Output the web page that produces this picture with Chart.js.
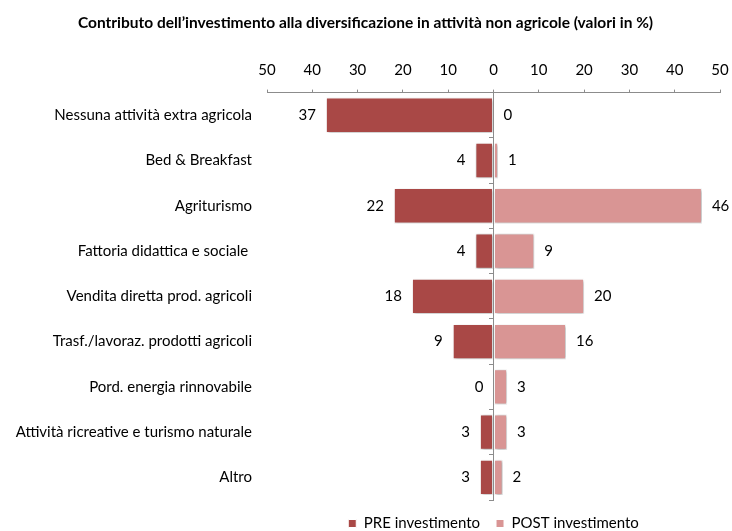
<!DOCTYPE html>
<html>
<head>
<meta charset="utf-8">
<script src="https://cdn.jsdelivr.net/npm/chart.js@4/dist/chart.umd.min.js"></script>
<style>
  html, body { margin: 0; padding: 0; background: #fff; }
  #wrap { width: 732px; height: 531px; }
</style>
</head>
<body>
<div id="wrap"><canvas id="grafico"></canvas></div>
<script>
// categorie e valori (%)
const categorie = [
  "Nessuna attività extra agricola",
  "Bed & Breakfast",
  "Agriturismo",
  "Fattoria didattica e sociale ",
  "Vendita diretta prod. agricoli",
  "Trasf./lavoraz. prodotti agricoli",
  "Pord. energia rinnovabile",
  "Attività ricreative e turismo naturale",
  "Altro"
];
const pre = [37, 4, 22, 4, 18, 9, 0, 3, 3];
const post = [0, 1, 46, 9, 20, 16, 3, 3, 2];
const tickValori = [-50, -40, -30, -20, -10, 0, 10, 20, 30, 40, 50];

const FONT = "Lato, 'Open Sans', sans-serif";
const ROSSO = "#A94846";
const ROSA = "#D99594";
const GRIGIO = "#8c8c8c";

// ombra leggera sotto le barre
const ombra = {
  id: "ombra",
  beforeDatasetsDraw(chart) {
    const ctx = chart.ctx;
    ctx.save();
    ctx.shadowColor = "rgba(0,0,0,0.35)";
    ctx.shadowBlur = 3;
    ctx.shadowOffsetX = 1;
    ctx.shadowOffsetY = 1;
  },
  afterDatasetsDraw(chart) {
    chart.ctx.restore();
  }
};

// etichette con i valori a fianco delle barre
const etichette = {
  id: "etichette",
  afterDatasetsDraw(chart) {
    const ctx = chart.ctx;
    const x = chart.scales.x;
    ctx.save();
    ctx.font = "15px " + FONT;
    ctx.fillStyle = "#000";
    ctx.textBaseline = "middle";
    chart.data.datasets.forEach((ds, i) => {
      const meta = chart.getDatasetMeta(i);
      meta.data.forEach((bar, j) => {
        const v = ds.data[j];
        const testo = String(Math.abs(v));
        if (v < 0 || (i === 0 && v === 0)) {
          ctx.textAlign = "right";
          ctx.fillText(testo, x.getPixelForValue(v) - 10, bar.y);
        } else {
          ctx.textAlign = "left";
          ctx.fillText(testo, x.getPixelForValue(v) + 10, bar.y);
        }
      });
    });
    ctx.restore();
  }
};

new Chart(document.getElementById("grafico"), {
  type: "bar",
  data: {
    labels: categorie,
    datasets: [
      {
        label: "PRE investimento",
        data: pre.map(v => -v),
        backgroundColor: ROSSO,
        borderColor: "#fff",
        borderWidth: 1,
        borderSkipped: false
      },
      {
        label: "POST investimento",
        data: post,
        backgroundColor: ROSA,
        borderColor: "#fff",
        borderWidth: 1,
        borderSkipped: false
      }
    ]
  },
  options: {
    indexAxis: "y",
    responsive: true,
    maintainAspectRatio: false,
    animation: false,
    categoryPercentage: 0.78,
    barPercentage: 1,
    layout: { padding: { left: 4, right: 5, top: 0, bottom: -10 } },
    scales: {
      x: {
        position: "top",
        stacked: true,
        min: -50,
        max: 50,
        z: 1,
        afterBuildTicks: scale => {
          scale.ticks = tickValori.map(v => ({ value: v }));
        },
        afterFit: scale => { scale.paddingRight = 12; },
        ticks: {
          callback: v => Math.abs(v),
          font: { family: FONT, size: 15 },
          color: "#000",
          padding: 10
        },
        grid: {
          color: c => (c.tick && c.tick.value === 0 ? GRIGIO : "rgba(0,0,0,0)"),
          tickColor: GRIGIO,
          tickLength: 3
        },
        border: { color: GRIGIO }
      },
      y: {
        stacked: true,
        afterFit: scale => { scale.width = 263; },
        ticks: {
          font: { family: FONT, size: 15 },
          color: "#000",
          padding: 7
        },
        grid: { display: false },
        border: { display: false }
      },
      // trattini sull'asse dello zero tra una categoria e l'altra
      asse0: {
        axis: "y",
        type: "category",
        position: { x: 0 },
        offset: true,
        ticks: { display: false },
        grid: {
          offset: true,
          drawOnChartArea: false,
          tickColor: GRIGIO,
          tickLength: 5
        },
        border: { display: false }
      }
    },
    plugins: {
      title: {
        display: true,
        text: "Contributo dell’investimento alla diversificazione in attività non agricole (valori in %)",
        font: { family: FONT, size: 15.5, weight: "bold" },
        color: "#000",
        padding: { top: 14, bottom: 19 }
      },
      legend: {
        position: "bottom",
        fullSize: false,
        labels: {
          boxWidth: 8,
          boxHeight: 8,
          font: { family: FONT, size: 15 },
          color: "#000",
          padding: 16
        }
      },
      tooltip: { enabled: false }
    }
  },
  plugins: [ombra, etichette]
});
</script>
</body>
</html>
